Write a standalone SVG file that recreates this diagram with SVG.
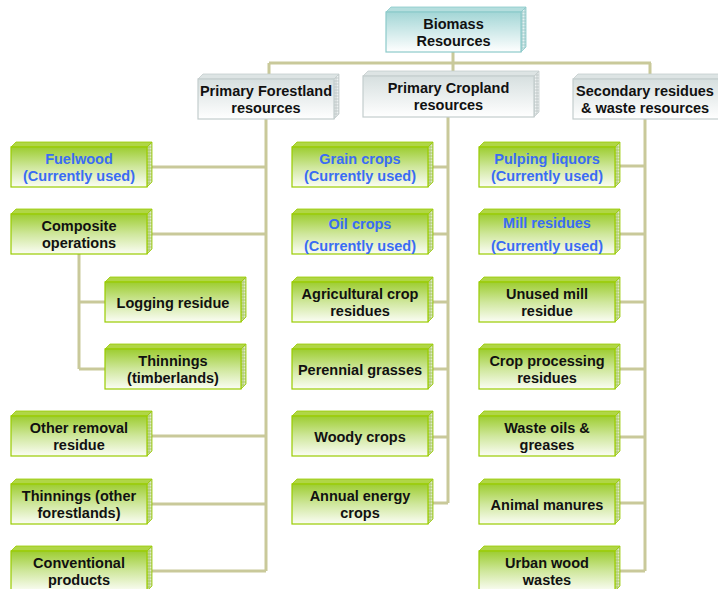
<svg xmlns="http://www.w3.org/2000/svg" xmlns:xlink="http://www.w3.org/1999/xlink" width="718" height="589" viewBox="0 0 718 589">
<style>
  text { font-family: "Liberation Sans", Arial, sans-serif; font-weight: bold; font-size: 14.5px; text-anchor: middle; fill: #111; }
  text.used { fill: #3a6cf4; }
  .conn { fill: none; stroke: #c9c99a; stroke-width: 3; }
  .gfront { fill: url(#gGreen); stroke: #99cc00; stroke-width: 1.2; }
  .gtop { fill: #b0d646; stroke: #99cc00; stroke-width: 0.8; }
  .gside { fill: url(#sidePat); stroke: #99cc00; stroke-width: 0.8; }
  .hfront { fill: url(#gGray); stroke: #c4cdcd; stroke-width: 1.2; }
  .htop { fill: #dde4e4; stroke: #c4cdcd; stroke-width: 0.8; }
  .hside { fill: url(#sidePatGray); stroke: #c4cdcd; stroke-width: 0.8; }
  .tfront { fill: url(#gTeal); stroke: #8ccaca; stroke-width: 1.2; }
  .ttop { fill: #b5dede; stroke: #8ccaca; stroke-width: 0.8; }
  .tside { fill: url(#sidePatTeal); stroke: #8ccaca; stroke-width: 0.8; }
</style>
<defs>
  <linearGradient id="gGreen" x1="0" y1="0" x2="0" y2="1">
    <stop offset="0" stop-color="#9dcd30"/>
    <stop offset="0.5" stop-color="#cfe79c"/>
    <stop offset="1" stop-color="#fbfdf5"/>
  </linearGradient>
  <linearGradient id="gGray" x1="0" y1="0" x2="0" y2="1">
    <stop offset="0" stop-color="#d6dfdf"/>
    <stop offset="1" stop-color="#ffffff"/>
  </linearGradient>
  <linearGradient id="gTeal" x1="0" y1="0" x2="0" y2="1">
    <stop offset="0" stop-color="#a3d6d6"/>
    <stop offset="1" stop-color="#ffffff"/>
  </linearGradient>
  <pattern id="sidePat" width="3" height="3" patternUnits="userSpaceOnUse">
    <rect width="3" height="3" fill="#b3cf78"/>
    <circle cx="1.5" cy="1.5" r="1" fill="#dfe9c9"/>
  </pattern>
  <pattern id="sidePatGray" width="3" height="3" patternUnits="userSpaceOnUse">
    <rect width="3" height="3" fill="#cbd2d2"/>
    <circle cx="1.5" cy="1.5" r="1" fill="#eef2f2"/>
  </pattern>
  <pattern id="sidePatTeal" width="3" height="3" patternUnits="userSpaceOnUse">
    <rect width="3" height="3" fill="#acd3d3"/>
    <circle cx="1.5" cy="1.5" r="1" fill="#e2f1f1"/>
  </pattern>
  <g id="gbox">
    <polygon class="gtop" points="0,0 5,-5 141,-5 136,0"/>
    <polygon class="gside" points="136,0 141,-5 141,35 136,40"/>
    <rect class="gfront" x="0" y="0" width="136" height="40"/>
  </g>
</defs>

<g id="connectors">
  <path class="conn" d="M453 52 V63 M269 63 H651 M269 63 V79 M453 63 V76 M650 63 V79"/>
  <path class="conn" d="M266 119 V571 M147 167 H266 M147 234 H266 M147 436 H266 M147 504 H266 M147 571 H266"/>
  <path class="conn" d="M79 253 V369 M79 302 H105 M79 369 H105"/>
  <path class="conn" d="M448 117 V503 M428 167 H448 M428 234 H448 M428 302 H448 M428 369 H448 M428 437 H448 M428 503 H448"/>
  <path class="conn" d="M645 119 V571 M616 166 H645 M616 234 H645 M616 302 H645 M616 369 H645 M616 437 H645 M616 503 H645 M616 571 H645"/>
</g>

<g id="biomass">
  <polygon class="ttop" points="386,12 391,7 526,7 521,12"/>
  <polygon class="tside" points="521,12 526,7 526,47 521,52"/>
  <rect class="tfront" x="386" y="12" width="135" height="40"/>
  <text x="453.5" y="29">Biomass</text>
  <text x="453.5" y="46">Resources</text>
</g>

<g id="forestland">
  <polygon class="htop" points="198,79 203,74 339,74 334,79"/>
  <polygon class="hside" points="334,79 339,74 339,114 334,119"/>
  <rect class="hfront" x="198" y="79" width="136" height="40"/>
  <text x="266" y="96">Primary Forestland</text>
  <text x="266" y="113">resources</text>
</g>

<g id="cropland">
  <polygon class="htop" points="363,76 368,71 539,71 534,76"/>
  <polygon class="hside" points="534,76 539,71 539,112 534,117"/>
  <rect class="hfront" x="363" y="76" width="171" height="41"/>
  <text x="448.5" y="93">Primary Cropland</text>
  <text x="448.5" y="110">resources</text>
</g>

<g id="secondary">
  <polygon class="htop" points="573,79 578,74 724,74 719,79"/>
  <rect class="hfront" x="573" y="79" width="146" height="40"/>
  <text x="645" y="96">Secondary residues</text>
  <text x="645" y="113">&amp; waste resources</text>
</g>

<!-- Forestland column -->
<g id="fuelwood" transform="translate(11,147)">
  <use xlink:href="#gbox"/>
  <text class="used" x="68" y="17">Fuelwood</text>
  <text class="used" x="68" y="34">(Currently used)</text>
</g>
<g id="composite" transform="translate(11,214)">
  <use xlink:href="#gbox"/>
  <text x="68" y="17">Composite</text>
  <text x="68" y="34">operations</text>
</g>
<g id="logging" transform="translate(105,282)">
  <use xlink:href="#gbox"/>
  <text x="68" y="25.5">Logging residue</text>
</g>
<g id="thinnings-timber" transform="translate(105,349)">
  <use xlink:href="#gbox"/>
  <text x="68" y="17">Thinnings</text>
  <text x="68" y="34">(timberlands)</text>
</g>
<g id="other-removal" transform="translate(11,416)">
  <use xlink:href="#gbox"/>
  <text x="68" y="17">Other removal</text>
  <text x="68" y="34">residue</text>
</g>
<g id="thinnings-other" transform="translate(11,484)">
  <use xlink:href="#gbox"/>
  <text x="68" y="17">Thinnings (other</text>
  <text x="68" y="34">forestlands)</text>
</g>
<g id="conventional" transform="translate(11,551)">
  <use xlink:href="#gbox"/>
  <text x="68" y="17">Conventional</text>
  <text x="68" y="34">products</text>
</g>

<!-- Cropland column -->
<g id="grain" transform="translate(292,147)">
  <use xlink:href="#gbox"/>
  <text class="used" x="68" y="17">Grain crops</text>
  <text class="used" x="68" y="34">(Currently used)</text>
</g>
<g id="oil" transform="translate(292,214)">
  <use xlink:href="#gbox"/>
  <text class="used" x="68" y="15">Oil crops</text>
  <text class="used" x="68" y="37">(Currently used)</text>
</g>
<g id="agri-residues" transform="translate(292,282)">
  <use xlink:href="#gbox"/>
  <text x="68" y="17">Agricultural crop</text>
  <text x="68" y="34">residues</text>
</g>
<g id="perennial" transform="translate(292,349)">
  <use xlink:href="#gbox"/>
  <text x="68" y="25.5">Perennial grasses</text>
</g>
<g id="woody" transform="translate(292,416)">
  <use xlink:href="#gbox"/>
  <text x="68" y="25.5">Woody crops</text>
</g>
<g id="annual" transform="translate(292,484)">
  <use xlink:href="#gbox"/>
  <text x="68" y="17">Annual energy</text>
  <text x="68" y="34">crops</text>
</g>

<!-- Secondary column -->
<g id="pulping" transform="translate(479,147)">
  <use xlink:href="#gbox"/>
  <text class="used" x="68" y="17">Pulping liquors</text>
  <text class="used" x="68" y="34">(Currently used)</text>
</g>
<g id="mill" transform="translate(479,214)">
  <use xlink:href="#gbox"/>
  <text class="used" x="68" y="14">Mill residues</text>
  <text class="used" x="68" y="37">(Currently used)</text>
</g>
<g id="unused-mill" transform="translate(479,282)">
  <use xlink:href="#gbox"/>
  <text x="68" y="17">Unused mill</text>
  <text x="68" y="34">residue</text>
</g>
<g id="crop-processing" transform="translate(479,349)">
  <use xlink:href="#gbox"/>
  <text x="68" y="17">Crop processing</text>
  <text x="68" y="34">residues</text>
</g>
<g id="waste-oils" transform="translate(479,416)">
  <use xlink:href="#gbox"/>
  <text x="68" y="17">Waste oils &amp;</text>
  <text x="68" y="34">greases</text>
</g>
<g id="manures" transform="translate(479,484)">
  <use xlink:href="#gbox"/>
  <text x="68" y="25.5">Animal manures</text>
</g>
<g id="urban-wood" transform="translate(479,551)">
  <use xlink:href="#gbox"/>
  <text x="68" y="17">Urban wood</text>
  <text x="68" y="34">wastes</text>
</g>
</svg>
